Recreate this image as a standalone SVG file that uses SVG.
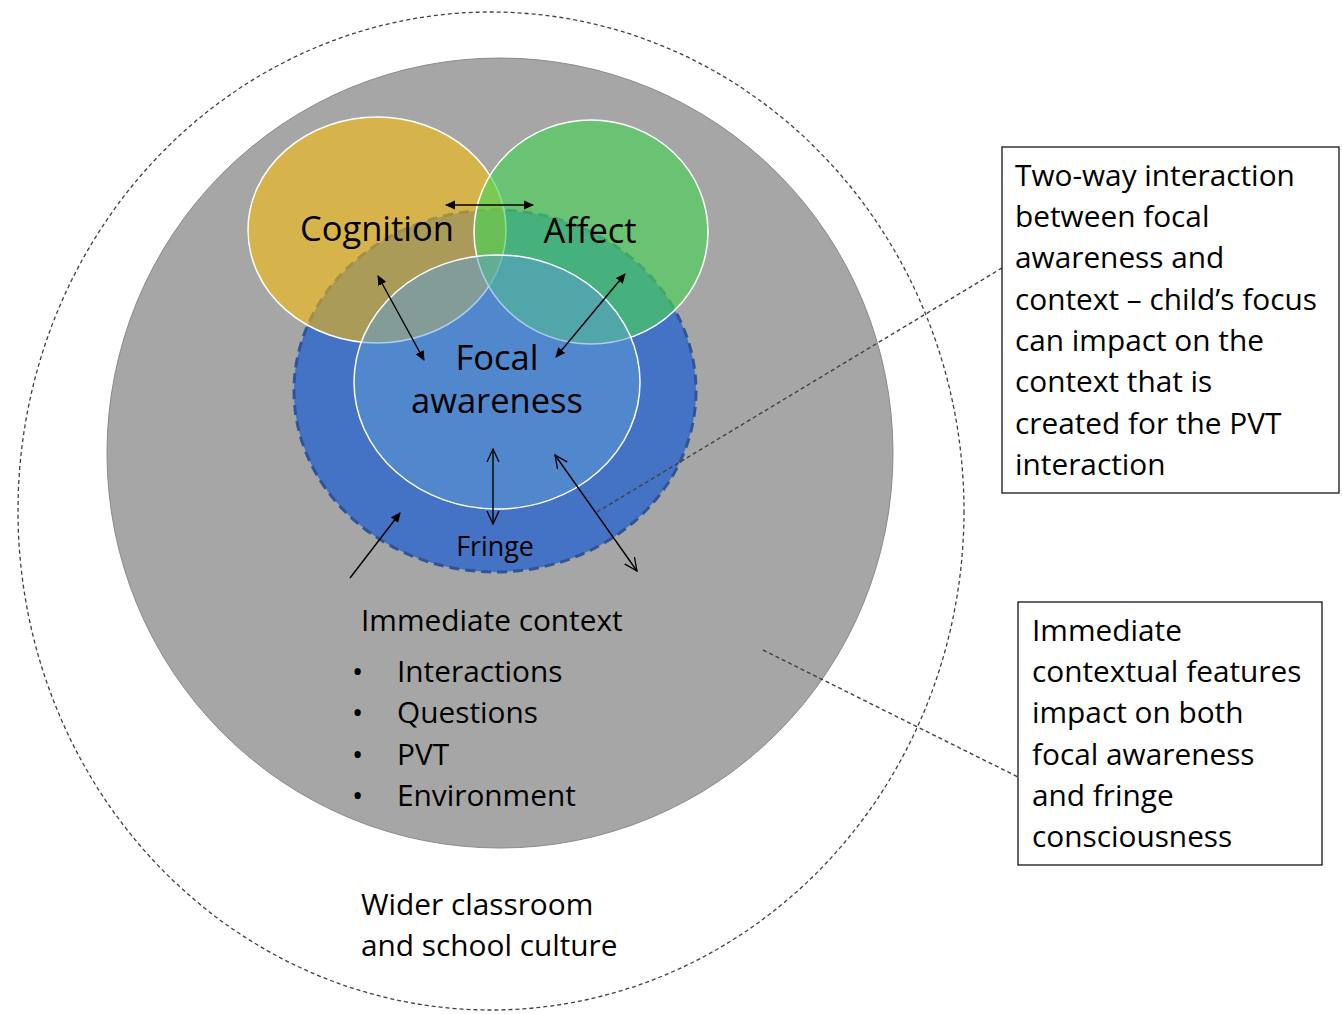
<svg xmlns="http://www.w3.org/2000/svg" width="1342" height="1014" viewBox="0 0 1342 1014">
  <style>
    .lbl { font-family: "Open Sans", "Liberation Sans", sans-serif; fill: #000; }
    .big { font-size: 34.5px; }
    .mid { font-size: 29.8px; }
    .sm { font-size: 26.8px; }
    .leader { fill: none; stroke: #404040; stroke-width: 1.4; stroke-dasharray: 4 3; }
    .arrow { fill: none; stroke: #000; stroke-width: 1.4; }
    .box { fill: #fff; stroke: #000; stroke-width: 1.2; }
  </style>
  <defs>
    <marker id="solidHead" viewBox="0 0 10 10" refX="9" refY="5" markerWidth="10" markerHeight="10" markerUnits="userSpaceOnUse" orient="auto-start-reverse">
      <path d="M0,0.5 L10,5 L0,9.5 Z" fill="#000"/>
    </marker>
    <marker id="openHead" viewBox="0 0 14 14" refX="13" refY="7" markerWidth="14" markerHeight="14" markerUnits="userSpaceOnUse" orient="auto-start-reverse">
      <path d="M0,1 L13,7 L0,13" fill="none" stroke="#000" stroke-width="1.3"/>
    </marker>
  </defs>

  <rect width="1342" height="1014" fill="#fff"/>

  <!-- wider classroom culture -->
  <g id="wider-culture">
    <ellipse cx="491" cy="511" rx="473" ry="499" fill="none" stroke="#404040" stroke-width="1.3" stroke-dasharray="4 3"/>
    <text class="lbl mid" x="361" y="915">Wider classroom</text>
    <text class="lbl mid" x="361" y="956">and school culture</text>
  </g>

  <!-- immediate context -->
  <g id="immediate-context">
    <ellipse cx="500" cy="453" rx="393" ry="395" fill="#a6a6a6" stroke="#8a8a8a" stroke-width="1"/>
    <text class="lbl mid" x="361" y="631">Immediate context</text>
    <text class="lbl mid" x="352" y="682">•</text>
    <text class="lbl mid" x="397" y="682">Interactions</text>
    <text class="lbl mid" x="352" y="723">•</text>
    <text class="lbl mid" x="397" y="723">Questions</text>
    <text class="lbl mid" x="352" y="765">•</text>
    <text class="lbl mid" x="397" y="765">PVT</text>
    <text class="lbl mid" x="352" y="806">•</text>
    <text class="lbl mid" x="397" y="806">Environment</text>
  </g>

  <!-- fringe consciousness -->
  <g id="fringe">
    <ellipse cx="495" cy="391" rx="201" ry="181" fill="#4472c4" stroke="#2f5597" stroke-width="3" stroke-dasharray="10 6"/>
    <text class="lbl sm" x="495" y="556" text-anchor="middle">Fringe</text>
  </g>

  <!-- cognition -->
  <g id="cognition">
    <ellipse cx="377" cy="230" rx="129" ry="113" fill="#ffc000" fill-opacity="0.55" stroke="#fff" stroke-width="1.5"/>
  </g>

  <!-- affect -->
  <g id="affect">
    <ellipse cx="591" cy="232" rx="117" ry="112" fill="#4ad358" fill-opacity="0.65" stroke="#fff" stroke-width="1.5"/>
  </g>

  <!-- focal awareness -->
  <g id="focal-awareness">
    <ellipse cx="497" cy="382" rx="143" ry="127" fill="#5c9cd6" fill-opacity="0.5" stroke="#fff" stroke-width="1.5"/>
  </g>

  <!-- labels drawn above the overlapping circles -->
  <g id="circle-labels">
    <text class="lbl big" x="377" y="241" text-anchor="middle">Cognition</text>
    <text class="lbl big" x="590" y="243" text-anchor="middle">Affect</text>
    <text class="lbl big" x="497" y="370" text-anchor="middle">Focal</text>
    <text class="lbl big" x="497" y="413" text-anchor="middle">awareness</text>
  </g>

  <!-- connectors -->
  <g id="connectors">
    <line class="arrow" x1="446" y1="205" x2="533" y2="205" marker-start="url(#solidHead)" marker-end="url(#solidHead)"/>
    <line class="arrow" x1="378" y1="276" x2="424" y2="360" marker-start="url(#solidHead)" marker-end="url(#solidHead)"/>
    <line class="arrow" x1="625" y1="274" x2="556" y2="357" marker-start="url(#solidHead)" marker-end="url(#solidHead)"/>
    <line class="arrow" x1="493" y1="449" x2="493" y2="524" marker-start="url(#openHead)" marker-end="url(#openHead)"/>
    <line class="arrow" x1="555" y1="455" x2="637" y2="571" marker-start="url(#openHead)" marker-end="url(#openHead)"/>
    <line class="arrow" x1="350" y1="578" x2="400" y2="513" marker-end="url(#solidHead)"/>
    <line class="leader" x1="597" y1="512" x2="1002" y2="268"/>
    <line class="leader" x1="763" y1="650" x2="1018" y2="777"/>
  </g>

  <!-- callout: two-way interaction -->
  <g id="callout-two-way">
    <rect class="box" x="1002" y="147" width="337" height="346"/>
    <text class="lbl mid" x="1015" y="186">Two-way interaction</text>
    <text class="lbl mid" x="1015" y="227">between focal</text>
    <text class="lbl mid" x="1015" y="268">awareness and</text>
    <text class="lbl mid" x="1015" y="310">context – child’s focus</text>
    <text class="lbl mid" x="1015" y="351">can impact on the</text>
    <text class="lbl mid" x="1015" y="392">context that is</text>
    <text class="lbl mid" x="1015" y="434">created for the PVT</text>
    <text class="lbl mid" x="1015" y="475">interaction</text>
  </g>

  <!-- callout: immediate contextual features -->
  <g id="callout-context">
    <rect class="box" x="1018" y="602" width="304" height="263"/>
    <text class="lbl mid" x="1032" y="641">Immediate</text>
    <text class="lbl mid" x="1032" y="682">contextual features</text>
    <text class="lbl mid" x="1032" y="723">impact on both</text>
    <text class="lbl mid" x="1032" y="765">focal awareness</text>
    <text class="lbl mid" x="1032" y="806">and fringe</text>
    <text class="lbl mid" x="1032" y="847">consciousness</text>
  </g>
</svg>
